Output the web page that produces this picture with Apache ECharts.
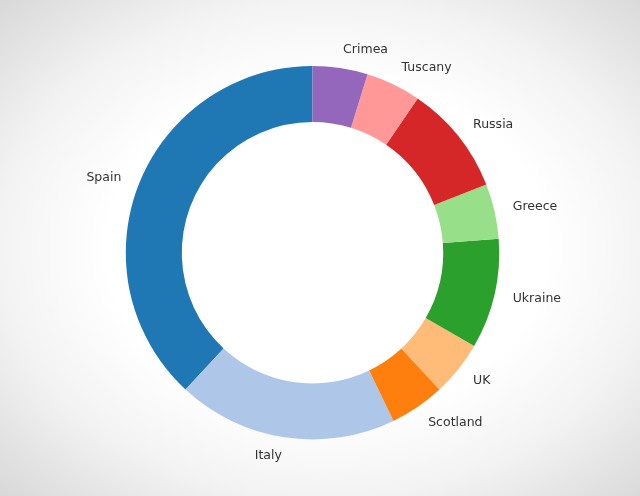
<!DOCTYPE html>
<html>
<head>
<meta charset="utf-8">
<script src="https://cdn.jsdelivr.net/npm/echarts@6/dist/echarts.min.js"></script>
<style>
html,body{margin:0;padding:0;width:640px;height:496px;overflow:hidden;}
#chart{width:640px;height:496px;
  background: radial-gradient(ellipse farthest-corner at 51% 50%, #ffffff 0%, #ffffff 48%, #f3f3f3 70.7%, #d8d8d8 100%);}
</style>
</head>
<body>
<div id="chart"></div>
<script>
const categories = ['Spain', 'Italy', 'Scotland', 'UK', 'Ukraine', 'Greece', 'Russia', 'Tuscany', 'Crimea'];
const values = [8, 4, 1, 1, 2, 1, 2, 1, 1];
const colors = ['#1f77b4', '#aec7e8', '#ff7f0e', '#ffbb78', '#2ca02c', '#98df8a', '#d62728', '#ff9896', '#9467bd'];

const chart = echarts.init(document.getElementById('chart'), null, {renderer: 'canvas'});
const outerR = 186.7;
chart.setOption({
  animation: false,
  backgroundColor: 'transparent',
  series: [{
    type: 'pie',
    center: [312.5, 252.7],
    radius: [outerR * 0.7, outerR],
    startAngle: 90,
    clockwise: false,
    avoidLabelOverlap: false,
    itemStyle: {borderWidth: 0},
    label: {
      show: true,
      position: 'outside',
      color: '#333333',
      fontFamily: 'DejaVu Sans',
      fontSize: 12.5,
      distanceToLabelLine: 0
    },
    labelLine: {show: false, length: outerR * 0.1, length2: 0},
    emphasis: {disabled: true},
    data: categories.map((c, i) => ({name: c, value: values[i], itemStyle: {color: colors[i]}}))
  }]
});
</script>
</body>
</html>
